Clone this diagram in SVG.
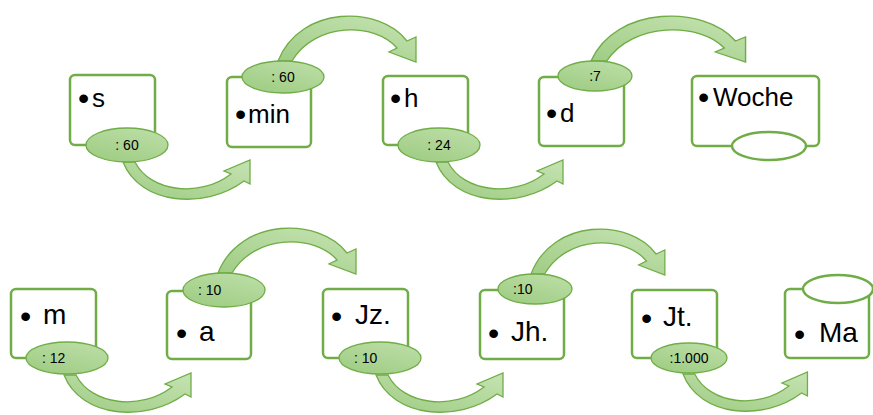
<svg xmlns="http://www.w3.org/2000/svg" width="873" height="415" viewBox="0 0 873 415">
<style>
.box{fill:#fff;stroke:#70ad47;stroke-width:2.5}
.lbl{fill:url(#gE);stroke:#70ad47;stroke-width:1.3}
.emp{fill:#fff;stroke:#70ad47;stroke-width:2.5}
.arr{fill:url(#gA);stroke:#70ad47;stroke-width:1.3;stroke-linejoin:miter}
.t1{font-family:"Liberation Sans",Arial,sans-serif;font-size:26px;fill:#000}
.t2{font-family:"Liberation Sans",Arial,sans-serif;font-size:28px;fill:#000}
.b{font-size:32px}
.s{font-family:"Liberation Sans",Arial,sans-serif;font-size:14px;fill:#000}
</style>
<defs>
<linearGradient id="gE" x1="0" y1="1" x2="0.6" y2="0">
<stop offset="0" stop-color="#9ccb80"/>
<stop offset="1" stop-color="#b9dca3"/>
</linearGradient>
<linearGradient id="gA" x1="0" y1="1" x2="0.8" y2="0">
<stop offset="0" stop-color="#9fcc84"/>
<stop offset="1" stop-color="#c2e1ae"/>
</linearGradient>
<path id="ab" d="M0,0 C17,43 82,48 121,19 L127,22 L127,-2 L101,9 L108,12 C77,36 27,30 12,0 Z"/>
<path id="at" d="M0,0 C22,-56 102,-56 129,-20 L138,-24 L138,1 L111,-9 L119,-13 C97,-39 37,-39 14,0 Z"/>
</defs>
<g id="connectors">
<use href="#ab" class="arr" transform="translate(123,162)"/>
<use href="#at" class="arr" transform="translate(278,61)"/>
<use href="#ab" class="arr" transform="translate(436,162)"/>
<use href="#at" class="arr" transform="translate(591,61) scale(1.12,1)"/>
<use href="#ab" class="arr" transform="translate(64,375)"/>
<use href="#at" class="arr" transform="translate(218,273)"/>
<use href="#ab" class="arr" transform="translate(376,375)"/>
<use href="#at" class="arr" transform="translate(531,274) scale(0.97,1)"/>
<use href="#ab" class="arr" transform="translate(683,374) scale(0.98,1)"/>
</g>
<g id="n-s">
<rect class="box" x="70" y="75" width="85" height="70" rx="5"/>
<text class="t1"><tspan class="b" x="78" y="109">•</tspan><tspan x="92" y="107">s</tspan></text>
<ellipse class="lbl" cx="127" cy="145" rx="41" ry="17"/>
<text class="s" x="127" y="150" text-anchor="middle">: 60</text>
</g>
<g id="n-min">
<rect class="box" x="227" y="77" width="84" height="70" rx="5"/>
<text class="t1"><tspan class="b" x="235" y="125">•</tspan><tspan x="248" y="123">min</tspan></text>
<ellipse class="lbl" cx="283" cy="77" rx="41" ry="16"/>
<text class="s" x="283" y="82" text-anchor="middle">: 60</text>
</g>
<g id="n-h">
<rect class="box" x="383" y="76" width="85" height="69" rx="5"/>
<text class="t1"><tspan class="b" x="390" y="109">•</tspan><tspan x="404" y="107">h</tspan></text>
<ellipse class="lbl" cx="439" cy="145" rx="41" ry="17"/>
<text class="s" x="439" y="150" text-anchor="middle">: 24</text>
</g>
<g id="n-d">
<rect class="box" x="539" y="77" width="85" height="69" rx="5"/>
<text class="t1"><tspan class="b" x="546" y="124">•</tspan><tspan x="560" y="122">d</tspan></text>
<ellipse class="lbl" cx="595" cy="76" rx="37" ry="15"/>
<text class="s" x="595" y="81" text-anchor="middle">:7</text>
</g>
<g id="n-woche">
<rect class="box" x="692" y="76" width="127" height="70" rx="5"/>
<text class="t1"><tspan class="b" x="698" y="108">•</tspan><tspan x="713" y="106">Woche</tspan></text>
<ellipse class="emp" cx="769" cy="146" rx="37" ry="14"/>
</g>
<g id="n-m">
<rect class="box" x="11" y="289" width="85" height="69" rx="5"/>
<text class="t2"><tspan class="b" x="20" y="327">•</tspan><tspan x="43" y="324">m</tspan></text>
<ellipse class="lbl" cx="67" cy="358" rx="41" ry="16"/>
<text class="s" x="42" y="363">: 12</text>
</g>
<g id="n-a">
<rect class="box" x="167" y="291" width="84" height="68" rx="5"/>
<text class="t2"><tspan class="b" x="176" y="344">•</tspan><tspan x="199" y="341">a</tspan></text>
<ellipse class="lbl" cx="224" cy="290" rx="41" ry="17"/>
<text class="s" x="198" y="295">: 10</text>
</g>
<g id="n-jz">
<rect class="box" x="323" y="289" width="85" height="69" rx="5"/>
<text class="t2"><tspan class="b" x="331" y="327">•</tspan><tspan x="355" y="324">Jz.</tspan></text>
<ellipse class="lbl" cx="380" cy="358" rx="41" ry="16"/>
<text class="s" x="354" y="363">: 10</text>
</g>
<g id="n-jh">
<rect class="box" x="480" y="290" width="84" height="69" rx="5"/>
<text class="t2"><tspan class="b" x="488" y="344">•</tspan><tspan x="511" y="341">Jh.</tspan></text>
<ellipse class="lbl" cx="535" cy="289" rx="37" ry="15"/>
<text class="s" x="513" y="294">:10</text>
</g>
<g id="n-jt">
<rect class="box" x="632" y="290" width="85" height="68" rx="5"/>
<text class="t2"><tspan class="b" x="641" y="329">•</tspan><tspan x="663" y="326">Jt.</tspan></text>
<ellipse class="lbl" cx="689" cy="358" rx="38" ry="15"/>
<text class="s" x="689" y="363" text-anchor="middle">:1.000</text>
</g>
<g id="n-ma">
<rect class="box" x="785" y="289" width="84" height="69" rx="5"/>
<text class="t2"><tspan class="b" x="794" y="345">•</tspan><tspan x="819" y="342">Ma</tspan></text>
<ellipse class="emp" cx="838" cy="289" rx="35" ry="14"/>
</g>
</svg>
